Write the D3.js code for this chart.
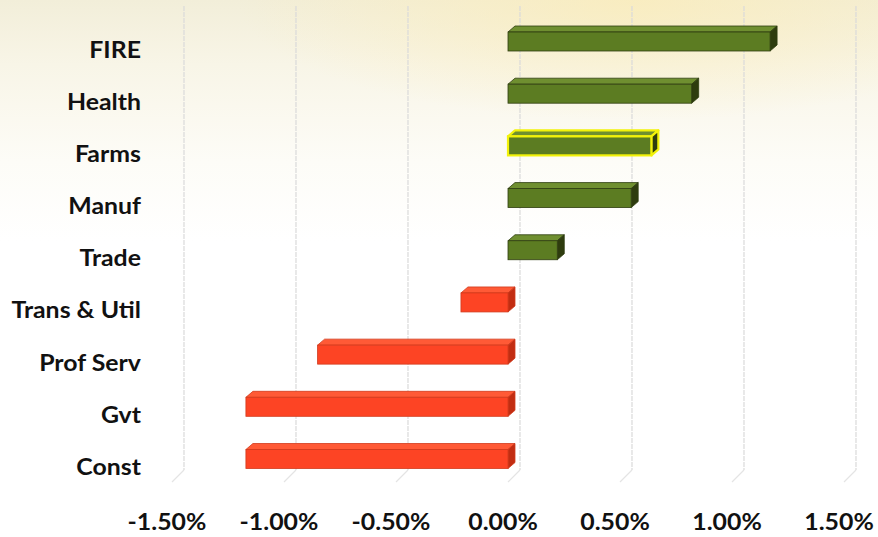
<!DOCTYPE html>
<html>
<head>
<meta charset="utf-8">
<script src="https://cdn.jsdelivr.net/npm/d3@7/dist/d3.min.js"></script>
<style>
  html, body { margin: 0; padding: 0; background: #fff; }
  svg { display: block; }
</style>
</head>
<body>
<svg id="chart" width="878" height="537"></svg>
<script>
// ---- data ----
const categories = ["FIRE", "Health", "Farms", "Manuf", "Trade", "Trans & Util", "Prof Serv", "Gvt", "Const"];
const values = [1.17, 0.82, 0.64, 0.55, 0.22, -0.21, -0.85, -1.17, -1.17]; // percent
const highlighted = ["Farms"];
const tickValues = [-1.5, -1.0, -0.5, 0.0, 0.5, 1.0, 1.5];
const tickLabels = ["-1.50%", "-1.00%", "-0.50%", "0.00%", "0.50%", "1.00%", "1.50%"];

const W = 878, H = 537;
const svg = d3.select("#chart");

// background gradient
const defs = svg.append("defs");
const g1 = defs.append("linearGradient").attr("id", "bgV").attr("x1", 0).attr("y1", 0).attr("x2", 0).attr("y2", 1);
g1.append("stop").attr("offset", "0%").attr("stop-color", "#f2eed9");
g1.append("stop").attr("offset", "12%").attr("stop-color", "#f8f5e7");
g1.append("stop").attr("offset", "30%").attr("stop-color", "#fdfcf7");
g1.append("stop").attr("offset", "45%").attr("stop-color", "#ffffff");
g1.append("stop").attr("offset", "100%").attr("stop-color", "#ffffff");
svg.append("rect").attr("width", W).attr("height", H).attr("fill", "url(#bgV)");
const g2 = defs.append("radialGradient").attr("id", "bgY").attr("cx", 0.72).attr("cy", 0).attr("r", 0.45);
g2.append("stop").attr("offset", "0%").attr("stop-color", "#fbecb8").attr("stop-opacity", 0.75);
g2.append("stop").attr("offset", "100%").attr("stop-color", "#fbecb8").attr("stop-opacity", 0);
svg.append("rect").attr("width", W).attr("height", H * 0.5).attr("fill", "url(#bgY)");

// scales
const x = d3.scaleLinear().domain([-1.5, 1.5]).range([172, 844]);
const y = d3.scalePoint().domain(categories).range([41.5, 459]);
const barH = 19, dx = 7, dy = 6, gridShift = 12;

// gridlines (back plane) with floor foot
const grid = svg.append("g");
tickValues.forEach(v => {
  const xb = x(v) + gridShift;
  grid.append("line").attr("x1", xb).attr("x2", xb).attr("y1", 6).attr("y2", 470)
    .attr("stroke", "#dadada").attr("stroke-width", 1.2).attr("stroke-dasharray", "5,1");
  grid.append("line").attr("x1", xb).attr("x2", xb - 12).attr("y1", 470).attr("y2", 482)
    .attr("stroke", "#e4e4e4").attr("stroke-width", 1.2);
});

// bars (3D look)
const data = categories.map((c, i) => ({ cat: c, v: values[i] }));
const bars = svg.append("g").selectAll("g").data(data).join("g");

function colors(d) {
  return d.v >= 0
    ? { front: "#5c7c22", top: "#6f8f30", side: "#2e3c0e", stroke: "#2f3d10" }
    : { front: "#fd4424", top: "#ff5a36", side: "#c22d12", stroke: "#d23a1c" };
}

bars.each(function(d) {
  const g = d3.select(this);
  const c = colors(d);
  const x0 = x(Math.min(0, d.v)), x1 = x(Math.max(0, d.v));
  const yt = y(d.cat) - barH / 2, yb = y(d.cat) + barH / 2;
  const hl = highlighted.includes(d.cat);
  const sc = hl ? "#f2f20a" : c.stroke;
  const sw = hl ? 2.2 : 0.8;
  g.append("path")
    .attr("d", `M${x0},${yt} L${x0 + dx},${yt - dy} L${x1 + dx},${yt - dy} L${x1},${yt} Z`)
    .attr("fill", c.top).attr("stroke", sc).attr("stroke-width", sw).attr("stroke-linejoin", "round");
  g.append("path")
    .attr("d", `M${x1},${yt} L${x1 + dx},${yt - dy} L${x1 + dx},${yb - dy} L${x1},${yb} Z`)
    .attr("fill", c.side).attr("stroke", sc).attr("stroke-width", sw).attr("stroke-linejoin", "round");
  g.append("rect")
    .attr("x", x0).attr("y", yt).attr("width", x1 - x0).attr("height", barH)
    .attr("fill", c.front).attr("stroke", sc).attr("stroke-width", sw);
});

const stretch = 1.13;

// category labels
svg.append("g").selectAll("text").data(categories).join("text")
  .attr("transform", d => `translate(141,${y(d) + 16}) scale(${stretch},1)`)
  .attr("text-anchor", "end")
  .attr("font-family", "Lato, 'Open Sans', sans-serif")
  .attr("font-weight", "bold").attr("font-size", 22)
  .attr("fill", "#111")
  .text(d => d);

// x tick labels
svg.append("g").selectAll("text").data(tickValues).join("text")
  .attr("transform", d => `translate(${x(d) - 5},530) scale(${stretch},1)`)
  .attr("text-anchor", "middle")
  .attr("font-family", "Lato, 'Open Sans', sans-serif")
  .attr("font-weight", "bold").attr("font-size", 22)
  .attr("fill", "#111")
  .text((d, i) => tickLabels[i]);
</script>
</body>
</html>
